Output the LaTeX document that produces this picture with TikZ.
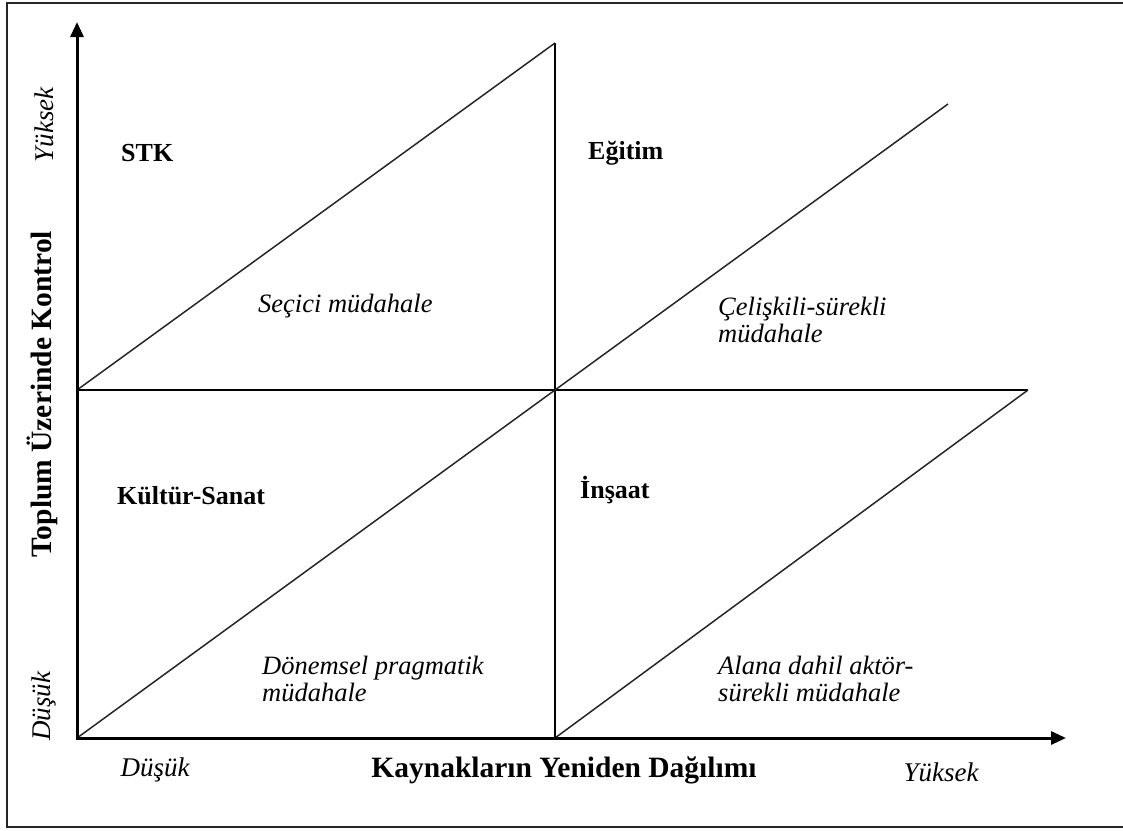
\documentclass[tikz,border=0pt]{standalone}
\usepackage{fontspec}
\setmainfont{Liberation Serif}
\usetikzlibrary{arrows.meta}
\usetikzlibrary{calc}

\begin{document}
\begin{tikzpicture}[x=1pt,y=-1pt]
\tikzstyle{axis}=[line width=3pt,-{Triangle[length=15pt,width=13pt]}]
\tikzstyle{divider}=[line width=1.8pt]
\tikzstyle{diag}=[line width=1.5pt,draw=black!85]
\tikzstyle{head}=[font=\fontsize{26}{30}\selectfont\bfseries,anchor=west,inner sep=0pt]
\tikzstyle{note}=[font=\fontsize{26.5}{27}\selectfont\itshape,align=left,anchor=west,inner sep=0pt]
\tikzstyle{title}=[font=\fontsize{29.5}{33}\selectfont\bfseries,inner sep=0pt]
\tikzstyle{ticklabel}=[font=\fontsize{27}{30}\selectfont\itshape,inner sep=0pt]
\useasboundingbox (0,0) rectangle (1123,830);
\draw [line width=1.6pt, draw=black!85] (7,3) rectangle (1135,827);
% corners of the quadrants
\coordinate (origin) at (77,738);
\coordinate (ytop) at (77,22);
\coordinate (xend) at (1066,738);
\coordinate (midtop) at (555,43);
\coordinate (mid) at (555,390);
\coordinate (lmid) at (77,390);
\coordinate (bmid) at (555,738);
\coordinate (rend) at (1028,390);
\coordinate (tend) at (948,104);
\draw [divider] (lmid) -- (rend);
\draw [divider] (midtop) -- (bmid);
\draw [diag] (lmid) -- (midtop);
\draw [diag] (mid) -- (tend);
\draw [diag] (origin) -- (mid);
\draw [diag] (bmid) -- (rend);
\draw [axis] ($(origin)+(0,1.5)$) -- (ytop);
\draw [axis] ($(origin)+(-1.5,0)$) -- (xend);
% quadrant texts
\node (stk) [head] at (121,153) {STK};
\node (egitim) [head] at (588,153) {Eğitim};
\node (kultur) [head] at (117,496) {Kültür-Sanat};
\node (insaat) [head] at (580,490) {İnşaat};
\node (secici) [note] at (258,306) {Seçici müdahale};
\node (celiskili) [note] at (718,320) {Çelişkili-sürekli\\müdahale};
\node (donemsel) [note] at (262,679) {Dönemsel pragmatik\\müdahale};
\node (alana) [note] at (718,679) {Alana dahil aktör-\\sürekli müdahale};
% axis labels
\node (ytitle) [title,rotate=90] at (42,394) {Toplum Üzerinde Kontrol};
\node (yhigh) [ticklabel,rotate=90] at (44,125) {Yüksek};
\node (ylow) [ticklabel,rotate=90] at (44,706) {Düşük};
\node (xtitle) [title] at (564,770) {Kaynakların Yeniden Dağılımı};
\node (xlow) [ticklabel] at (155,770) {Düşük};
\node (xhigh) [ticklabel] at (941,772) {Yüksek};
\end{tikzpicture}
\end{document}
